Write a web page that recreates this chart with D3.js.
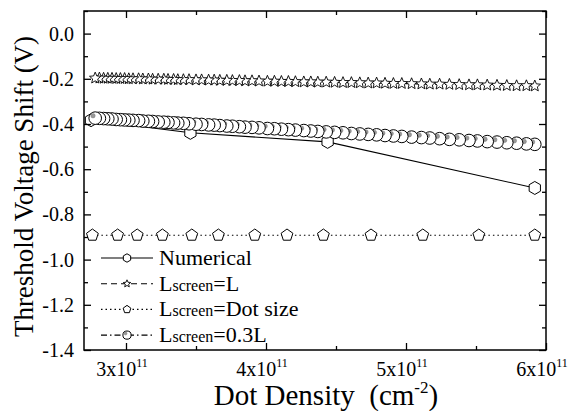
<!DOCTYPE html>
<html>
<head>
<meta charset="utf-8">
<script src="https://cdn.jsdelivr.net/npm/d3@7"></script>
<style>
  body { margin: 0; background: #fff; }
</style>
</head>
<body>
<div id="chart"></div>
<script>
// Dot density in units of 1e11 cm^-2
const numericalDensity = [2.75, 3.46, 4.44, 5.92];
const numericalShift = [-0.383, -0.439, -0.479, -0.683];

// shared densities of the two dense screening-length series
const screenDensity = [
  2.78, 2.81, 2.84, 2.87, 2.90, 2.93, 2.96, 2.99, 3.02, 3.05,
  3.09, 3.12, 3.16, 3.19, 3.23, 3.27, 3.30, 3.34, 3.37, 3.41,
  3.45, 3.50, 3.54, 3.59, 3.63, 3.67, 3.72, 3.76, 3.81, 3.85,
  3.90, 3.95, 4.01, 4.06, 4.11, 4.16, 4.21, 4.27, 4.32, 4.37,
  4.43, 4.49, 4.55, 4.61, 4.67, 4.73, 4.79, 4.85, 4.91, 4.97,
  5.04, 5.11, 5.17, 5.24, 5.31, 5.38, 5.45, 5.51, 5.58, 5.65,
  5.72, 5.79, 5.86, 5.92
];
const shiftScreenL = [
  -0.197, -0.197, -0.198, -0.198, -0.198, -0.199, -0.199, -0.199, -0.200, -0.200,
  -0.200, -0.201, -0.201, -0.202, -0.202, -0.202, -0.203, -0.203, -0.204, -0.204,
  -0.204, -0.205, -0.205, -0.206, -0.206, -0.207, -0.207, -0.208, -0.208, -0.209,
  -0.209, -0.210, -0.211, -0.211, -0.212, -0.212, -0.213, -0.214, -0.214, -0.215,
  -0.215, -0.216, -0.217, -0.217, -0.218, -0.219, -0.219, -0.220, -0.221, -0.221,
  -0.222, -0.223, -0.224, -0.224, -0.225, -0.226, -0.227, -0.227, -0.228, -0.229,
  -0.230, -0.231, -0.231, -0.232
];
const shiftScreen03L = [
  -0.374, -0.375, -0.376, -0.377, -0.378, -0.380, -0.381, -0.382, -0.383, -0.384,
  -0.385, -0.387, -0.388, -0.389, -0.391, -0.392, -0.393, -0.395, -0.396, -0.397,
  -0.399, -0.401, -0.402, -0.404, -0.405, -0.407, -0.409, -0.410, -0.412, -0.414,
  -0.415, -0.417, -0.420, -0.421, -0.423, -0.425, -0.427, -0.429, -0.431, -0.433,
  -0.435, -0.437, -0.439, -0.442, -0.444, -0.446, -0.448, -0.451, -0.453, -0.455,
  -0.458, -0.460, -0.462, -0.465, -0.468, -0.470, -0.473, -0.475, -0.478, -0.480,
  -0.483, -0.485, -0.488, -0.490
];

const dotSizeDensity = [2.76, 2.94, 3.08, 3.26, 3.47, 3.66, 3.92, 4.15, 4.41, 4.75, 5.12, 5.52, 5.92];
const shiftDotSize = [-0.892, -0.892, -0.892, -0.892, -0.892, -0.892, -0.892, -0.892, -0.892, -0.892, -0.892, -0.892, -0.892];

const xMajorTicks = [3, 4, 5, 6];
const xMinorTicks = [3.5, 4.5, 5.5];
const yMajorTicks = [0.0, -0.2, -0.4, -0.6, -0.8, -1.0, -1.2, -1.4];
const yMinorTicks = [0.1, -0.1, -0.3, -0.5, -0.7, -0.9, -1.1, -1.3];

const legendLabels = ["Numerical", "L|screen|=L", "L|screen|=Dot size", "L|screen|=0.3L"];

const width = 572, height = 411;
const margin = { top: 11, right: 26, bottom: 61, left: 84 };
const serif = "'Liberation Serif', 'Times New Roman', Times, 'DejaVu Serif', serif";

const svg = d3.select("#chart").append("svg")
  .attr("width", width)
  .attr("height", height)
  .attr("font-family", serif)
  .style("font-family", serif);

const x = d3.scaleLinear().domain([2.7, 6.0]).range([margin.left, width - margin.right]);
const y = d3.scaleLinear().domain([-1.4, 0.1]).range([height - margin.bottom, margin.top]);

// marker path builders
function polygon(n, r, rot) {
  const pts = d3.range(n).map(i => {
    const a = rot + (i * 2 * Math.PI) / n;
    return [r * Math.cos(a), r * Math.sin(a)];
  });
  return "M" + pts.map(p => p.join(",")).join("L") + "Z";
}
function star(r) {
  const pts = d3.range(10).map(i => {
    const a = -Math.PI / 2 + (i * Math.PI) / 5;
    const rr = i % 2 === 0 ? r : r * 0.45;
    return [rr * Math.cos(a), rr * Math.sin(a)];
  });
  return "M" + pts.map(p => p.join(",")).join("L") + "Z";
}

const series = [
  { xs: numericalDensity, ys: numericalShift, dash: null, marker: "hex" },
  { xs: screenDensity, ys: shiftScreenL, dash: "6,4", marker: "star" },
  { xs: dotSizeDensity, ys: shiftDotSize, dash: "1.5,3", marker: "pent" },
  { xs: screenDensity, ys: shiftScreen03L, dash: "6,3,1.5,3", marker: "circ" }
];

function drawMarker(g, type, scale) {
  const s = scale || 1;
  if (type === "hex") {
    g.append("path").attr("d", polygon(6, 6.5 * s, -Math.PI / 2))
      .attr("fill", "#fff").attr("stroke", "#000").attr("stroke-width", 1);
  } else if (type === "star") {
    g.append("path").attr("d", star(6 * s))
      .attr("fill", "#fff").attr("stroke", "#000").attr("stroke-width", 0.9);
  } else if (type === "pent") {
    g.append("path").attr("d", polygon(5, 6.2 * s, -Math.PI / 2))
      .attr("fill", "#fff").attr("stroke", "#000").attr("stroke-width", 1);
  } else {
    g.append("circle").attr("r", 6.3 * s)
      .attr("fill", "#fff").attr("stroke", "#000").attr("stroke-width", 1);
    g.append("circle").attr("r", 2.2 * s).attr("cx", -2.2 * s).attr("cy", -2.4 * s)
      .attr("fill", "#999").attr("stroke", "#777").attr("stroke-width", 0.5);
  }
}

const plot = svg.append("g");
const line = d3.line().x(d => x(d[0])).y(d => y(d[1]));

series.forEach(s => {
  const pts = s.xs.map((d, i) => [d, s.ys[i]]);
  plot.append("path")
    .attr("d", line(pts))
    .attr("fill", "none")
    .attr("stroke", "#000")
    .attr("stroke-width", 1.1)
    .attr("stroke-dasharray", s.dash);
  // draw right to left so the left marker ends up on top
  pts.slice().reverse().forEach(p => {
    const g = plot.append("g").attr("transform", `translate(${x(p[0])},${y(p[1])})`);
    drawMarker(g, s.marker, 1);
  });
});

// frame
svg.append("rect")
  .attr("x", x.range()[0]).attr("y", y.range()[1])
  .attr("width", x.range()[1] - x.range()[0])
  .attr("height", y.range()[0] - y.range()[1])
  .attr("fill", "none").attr("stroke", "#000").attr("stroke-width", 1.5);

// ticks on all four sides, pointing inward
const axB = d3.axisBottom(x).tickValues(xMajorTicks).tickSize(-7).tickFormat("");
const axBm = d3.axisBottom(x).tickValues(xMinorTicks).tickSize(-4).tickFormat("");
const axT = d3.axisTop(x).tickValues(xMajorTicks).tickSize(-7).tickFormat("");
const axTm = d3.axisTop(x).tickValues(xMinorTicks).tickSize(-4).tickFormat("");
const axL = d3.axisLeft(y).tickValues(yMajorTicks).tickSize(-7).tickFormat("");
const axLm = d3.axisLeft(y).tickValues(yMinorTicks).tickSize(-4).tickFormat("");
const axR = d3.axisRight(y).tickValues(yMajorTicks).tickSize(-7).tickFormat("");
const axRm = d3.axisRight(y).tickValues(yMinorTicks).tickSize(-4).tickFormat("");

[[axB, `translate(0,${y.range()[0]})`], [axBm, `translate(0,${y.range()[0]})`],
 [axT, `translate(0,${y.range()[1]})`], [axTm, `translate(0,${y.range()[1]})`],
 [axL, `translate(${x.range()[0]},0)`], [axLm, `translate(${x.range()[0]},0)`],
 [axR, `translate(${x.range()[1]},0)`], [axRm, `translate(${x.range()[1]},0)`]
].forEach(([ax, tr]) => {
  const g = svg.append("g").attr("transform", tr).call(ax);
  g.select(".domain").remove();
  g.selectAll(".tick line").attr("stroke", "#000").attr("stroke-width", 1.3);
});

// y tick labels
svg.append("g").selectAll("text")
  .data(yMajorTicks)
  .join("text")
  .attr("x", x.range()[0] - 10)
  .attr("y", d => y(d))
  .attr("dy", "0.35em")
  .attr("text-anchor", "end")
  .style("font-size", "20px")
  .text(d => d3.format(".1f")(d).replace("−", "-"));

// x tick labels with superscript exponent
const xl = svg.append("g").selectAll("text")
  .data(xMajorTicks)
  .join("text")
  .attr("x", d => x(d) - 4)
  .attr("y", y.range()[0] + 26)
  .attr("text-anchor", "middle")
  .style("font-size", "20px");
xl.append("tspan").text(d => d + "x10");
xl.append("tspan").attr("dy", -9).style("font-size", "12px").text("11");

// axis titles
svg.append("text")
  .attr("transform", `translate(33,${(y.range()[0] + y.range()[1]) / 2 + 6}) rotate(-90)`)
  .attr("text-anchor", "middle")
  .style("font-size", "27px")
  .text("Threshold Voltage Shift (V)");

const xt = svg.append("text")
  .attr("x", 326)
  .attr("y", 405)
  .attr("text-anchor", "middle")
  .style("font-size", "29px");
xt.append("tspan").text("Dot Density\u00a0\u00a0(cm");
xt.append("tspan").attr("dy", -12).style("font-size", "17px").text("-2");
xt.append("tspan").attr("dy", 12).text(")");

// legend
const legendY0 = 258, legendStep = 25.7;
series.forEach((s, i) => {
  const cy = legendY0 + i * legendStep;
  const g = svg.append("g");
  g.append("line")
    .attr("x1", 101).attr("x2", 153).attr("y1", cy).attr("y2", cy)
    .attr("stroke", "#000").attr("stroke-width", 1.1)
    .attr("stroke-dasharray", s.dash);
  const m = g.append("g").attr("transform", `translate(127,${cy})`);
  drawMarker(m, s.marker, 0.65);
  const parts = legendLabels[i].split("|");
  const t = g.append("text").attr("x", 159).attr("y", cy + 7).style("font-size", "22px");
  parts.forEach((p, j) => {
    t.append("tspan").style("font-size", j === 1 ? "16px" : "22px").text(p);
  });
});
</script>
</body>
</html>
